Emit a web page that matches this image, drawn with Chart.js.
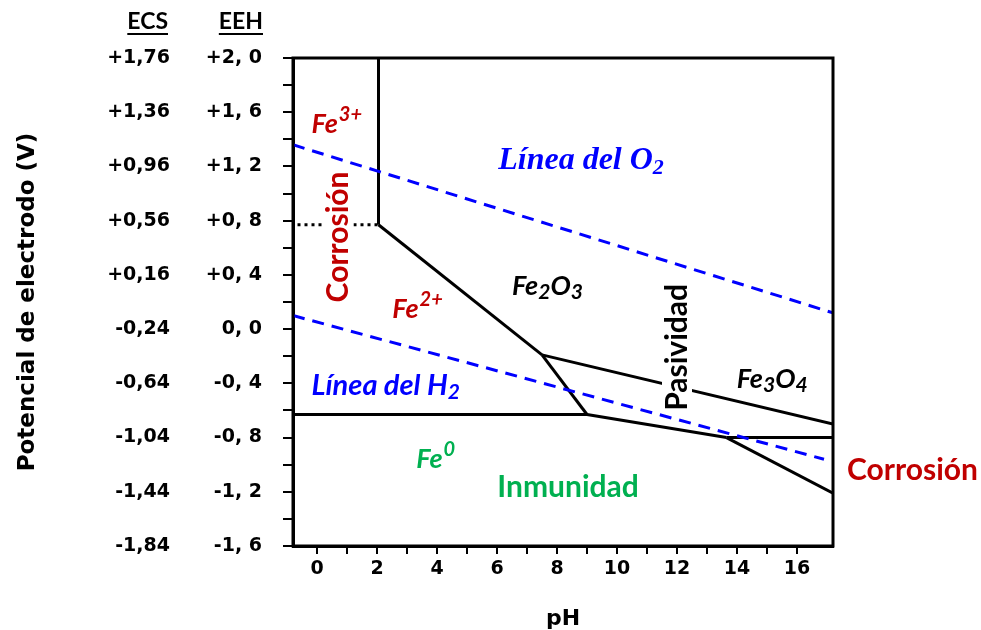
<!DOCTYPE html>
<html><head><meta charset="utf-8">
<script src="https://cdn.jsdelivr.net/npm/chart.js@4.4.1/dist/chart.umd.min.js"></script>
<style>html,body{margin:0;padding:0;background:#fff}canvas{display:block}</style>
</head><body>
<canvas id="c" width="981" height="630"></canvas>
<script>
// ---------- data ----------
const phTickLabels = [0, 2, 4, 6, 8, 10, 12, 14, 16];
const eehValues = [2.0, 1.6, 1.2, 0.8, 0.4, 0.0, -0.4, -0.8, -1.2, -1.6];
const eehLabels = ['+2, 0', '+1, 6', '+1, 2', '+0, 8', '+0, 4', '0, 0', '-0, 4', '-0, 8', '-1, 2', '-1, 6'];
const ecsLabels = ['+1,76', '+1,36', '+0,96', '+0,56', '+0,16', '-0,24', '-0,64', '-1,04', '-1,44', '-1,84'];

// water stability lines (pH, V)
const lineO2 = [[-0.8, 1.36], [17.2, 0.12]];
const lineH2 = [[-0.8, 0.10], [16.9, -0.96]];
// iron domain boundaries (pH, V)
const dottedFe3Fe2 = [[-0.65, 0.77], [2.05, 0.77]];
const boundFe3Fe2O3 = [[2.05, 2.0], [2.05, 0.77]];
const boundFe2Fe2O3 = [[2.05, 0.77], [7.5, -0.19]];
const boundFe2Fe3O4 = [[7.5, -0.19], [9.0, -0.63]];
const boundFeFe2 = [[-0.8, -0.63], [9.0, -0.63]];
const boundFeFe3O4 = [[9.0, -0.63], [13.65, -0.80]];
const boundFe2O3Fe3O4 = [[7.5, -0.19], [17.2, -0.70]];
const boundHighA = [[13.65, -0.80], [17.2, -0.80]];
const boundHighB = [[13.65, -0.80], [17.2, -1.21]];

// ---------- helpers ----------
const pts = a => a.map(p => ({x: p[0], y: p[1]}));
const solid = (arr) => ({data: pts(arr), showLine: true, borderColor: '#000', borderWidth: 3, pointRadius: 0, yAxisID: 'yE', borderCapStyle: 'butt'});
const dashedBlue = (arr) => ({data: pts(arr), showLine: true, borderColor: '#0000FF', borderWidth: 3, borderDash: [12, 8], pointRadius: 0, yAxisID: 'yE'});

const datasets = [
  dashedBlue(lineO2),
  dashedBlue(lineH2),
  Object.assign(solid(dottedFe3Fe2), {borderDash: [3, 4]}),
  solid(boundFe3Fe2O3),
  solid(boundFe2Fe2O3),
  solid(boundFe2Fe3O4),
  solid(boundFeFe2),
  solid(boundFeFe3O4),
  solid(boundFe2O3Fe3O4),
  solid(boundHighA),
  solid(boundHighB)
];

const RED = '#C00000', GREEN = '#00B050', BLUE = '#0000FF';
const LF = 'Lato, "Open Sans", sans-serif';
const DJ = '"DejaVu Sans", Verdana, sans-serif';

function labelFor(v, labels) {
  const i = eehValues.findIndex(e => Math.abs(e - v) < 1e-6);
  return i >= 0 ? labels[i] : '';
}

function drawRich(ctx, x, y, parts, color) {
  ctx.fillStyle = color; ctx.textAlign = 'left'; ctx.textBaseline = 'alphabetic';
  let cx = x;
  for (const p of parts) {
    ctx.font = p.font;
    ctx.fillText(p.t, cx, y + (p.dy || 0));
    cx += ctx.measureText(p.t).width + (p.gap || 0);
  }
}
function drawVertical(ctx, x, y, text, font, color, bg) {
  ctx.save();
  ctx.translate(x, y); ctx.rotate(-Math.PI / 2);
  ctx.font = font; ctx.textAlign = 'center'; ctx.textBaseline = 'middle';
  if (bg) {
    const w = ctx.measureText(text).width;
    ctx.fillStyle = '#fff';
    ctx.fillRect(-w / 2 - 2, -15, w + 4, 30);
  }
  ctx.fillStyle = color;
  ctx.fillText(text, 0, 0);
  ctx.restore();
}

const annotations = {
  id: 'annotations',
  afterDatasetsDraw(chart) {
    const ctx = chart.ctx, xs = chart.scales.x, ys = chart.scales.yE;
    const X = v => xs.getPixelForValue(v), Y = v => ys.getPixelForValue(v);
    ctx.save();
    const fe = 'italic bold 27px ' + LF, sup = 'italic bold 20px ' + LF;
    const word = 'bold 30px ' + LF, wordIt = 'italic bold 29px ' + LF, sub = 'italic bold 21px ' + LF;
    drawRich(ctx, X(-0.18), Y(1.447), [{t: 'Fe', font: fe, gap: 1}, {t: '3+', font: sup, dy: -12}], RED);
    drawRich(ctx, X(2.51), Y(0.083), [{t: 'Fe', font: fe, gap: 1}, {t: '2+', font: sup, dy: -12}], RED);
    drawRich(ctx, X(-0.18), Y(-0.485), [{t: 'Línea del H', font: wordIt}, {t: '2', font: sub, dy: 4}], BLUE);
    const serif = 'italic bold 32px "Liberation Serif", "Times New Roman", serif';
    const serifSub = 'italic bold 22px "Liberation Serif", "Times New Roman", serif';
    drawRich(ctx, X(6.04), Y(1.181), [{t: 'Línea del O', font: serif}, {t: '2', font: serifSub, dy: 5}], BLUE);
    drawRich(ctx, X(6.5), Y(0.252), [{t: 'Fe', font: fe}, {t: '2', font: sub, dy: 4}, {t: 'O', font: fe}, {t: '3', font: sub, dy: 4}], '#000');
    drawRich(ctx, X(13.99), Y(-0.434), [{t: 'Fe', font: fe}, {t: '3', font: sub, dy: 4}, {t: 'O', font: fe}, {t: '4', font: sub, dy: 4}], '#000');
    drawRich(ctx, X(3.31), Y(-1.024), [{t: 'Fe', font: fe, gap: 1}, {t: '0', font: sup, dy: -12}], GREEN);
    ctx.font = word; ctx.fillStyle = GREEN; ctx.textAlign = 'center'; ctx.textBaseline = 'alphabetic';
    ctx.fillText('Inmunidad', X(8.37), Y(-1.237));
    drawVertical(ctx, X(0.715), Y(0.68), 'Corrosión', word, RED, true);
    drawVertical(ctx, X(12.0), Y(-0.135), 'Pasividad', word, '#000', true);
    ctx.font = word; ctx.fillStyle = RED; ctx.textAlign = 'center'; ctx.textBaseline = 'middle';
    ctx.fillText('Corrosión', X(19.85), Y(-1.04));
    ctx.restore();
  },
  afterDraw(chart) {
    const ctx = chart.ctx, a = chart.chartArea;
    ctx.save();
    ctx.strokeStyle = '#000'; ctx.lineWidth = 3;
    ctx.strokeRect(a.left, a.top, a.right - a.left, a.bottom - a.top);
    // column headers for the two potential scales
    const ye = chart.scales.yE, yscs = chart.scales.yS;
    const topY = ye.getPixelForValue(eehValues[0]) - 36;
    ctx.font = 'bold 23px ' + LF; ctx.fillStyle = '#000'; ctx.textBaseline = 'middle'; ctx.textAlign = 'right';
    const heads = [['ECS', yscs.right - yscs.options.ticks.padding - 2], ['EEH', ye.right - ye.options.grid.tickLength - ye.options.ticks.padding + 1]];
    for (const [t, xr] of heads) {
      ctx.fillText(t, xr, topY);
      const w = ctx.measureText(t).width;
      ctx.fillRect(xr - w, topY + 11, w, 2);
    }
    ctx.restore();
  }
};

const tickFont = {family: DJ, weight: 'bold', size: 19};

new Chart(document.getElementById('c'), {
  type: 'scatter',
  data: {datasets},
  options: {
    responsive: false,
    animation: false,
    layout: {padding: {left: 0, right: 148, top: 58, bottom: 0}},
    plugins: {legend: {display: false}, tooltip: {enabled: false}},
    scales: {
      x: {
        type: 'linear', position: 'bottom', min: -0.8, max: 17.2,
        afterBuildTicks: s => { const t = []; for (let v = Math.ceil(s.min); v <= 16; v++) t.push({value: v}); s.ticks = t; },
        afterFit: s => { s.height = 84; },
        grid: {drawOnChartArea: false, drawTicks: true, tickLength: 8, color: '#000', lineWidth: 2},
        border: {display: true, color: '#000', width: 3},
        ticks: {font: tickFont, color: '#000', padding: 4, maxRotation: 0, autoSkip: false,
          callback: v => phTickLabels.includes(v) ? String(v) : ''},
        title: {display: true, text: 'pH', color: '#000', font: {family: DJ, weight: 'bold', size: 22, lineHeight: 1.0}, padding: {top: 0, bottom: 0}}
      },
      yE: {
        type: 'linear', position: 'left', weight: 0, min: -1.6, max: 2.0,
        afterBuildTicks: s => { const t = []; for (let i = 0; i <= 18; i++) t.push({value: Math.round((s.min + i * 0.2) * 10) / 10}); s.ticks = t; },
        afterFit: s => { s.width = 93; },
        grid: {drawOnChartArea: false, drawTicks: true, tickLength: 10, color: '#000', lineWidth: 2},
        border: {display: true, color: '#000', width: 3},
        ticks: {font: tickFont, color: '#000', padding: 21, autoSkip: false, callback: v => labelFor(v, eehLabels)}
      },
      yS: {
        type: 'linear', position: 'left', weight: 1, min: -1.6, max: 2.0,
        afterBuildTicks: s => { s.ticks = eehValues.map(v => ({value: v})); },
        afterFit: s => { s.width = 200; },
        grid: {display: false, drawTicks: false, drawOnChartArea: false},
        border: {display: false},
        ticks: {font: tickFont, color: '#000', padding: 30, autoSkip: false, callback: v => labelFor(v, ecsLabels)},
        title: {display: true, text: 'Potencial de electrodo (V)', color: '#000', font: {family: DJ, weight: 'bold', size: 23, lineHeight: 1.2}, padding: {top: 14, bottom: 0}}
      }
    }
  },
  plugins: [annotations]
});
</script>
</body></html>
